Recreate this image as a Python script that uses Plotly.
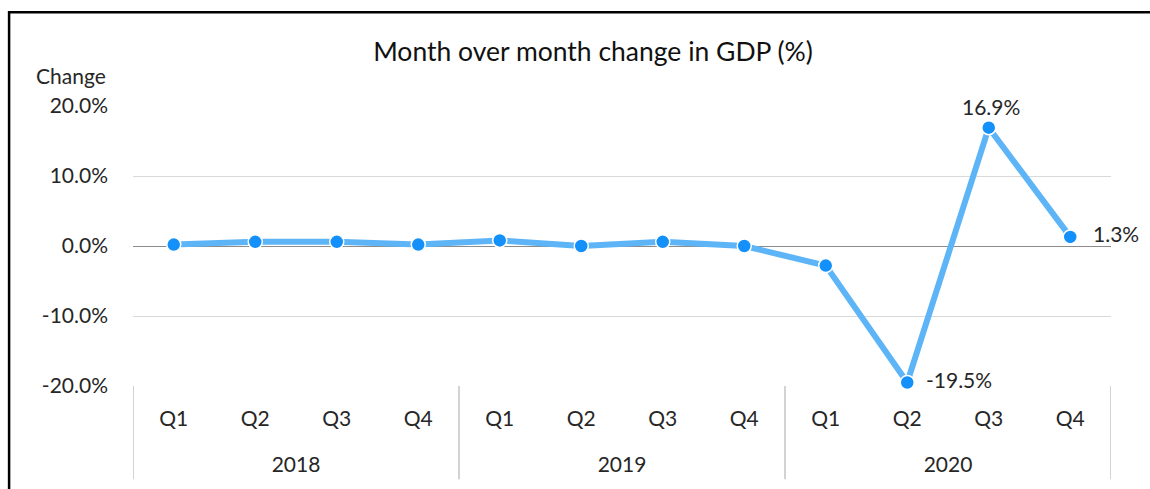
import plotly.graph_objects as go

# quarterly change in GDP (%)
years = ["2018"] * 4 + ["2019"] * 4 + ["2020"] * 4
quarters = ["Q1", "Q2", "Q3", "Q4"] * 3
change = [0.2, 0.6, 0.6, 0.2, 0.8, 0.0, 0.6, 0.0, -2.8, -19.5, 16.9, 1.3]

# data labels on the last three points: (index, text)
label_idx = [9, 10, 11]
label_txt = ["-19.5%", "16.9%", "1.3%"]

y_ticks = [-20, -10, 0, 10, 20]
y_ticktext = ["-20.0%", "-10.0%", "0.0%", "10.0%", "20.0%"]

font = "Lato"
txt = "#262626"

x = list(range(len(change)))
year_names = sorted(set(years))
year_centers = [sum(i for i, y in enumerate(years) if y == yr) / years.count(yr) for yr in year_names]
# group edges for the excel-style category dividers
edges = [-0.5] + [i + 0.5 for i in range(len(years) - 1) if years[i] != years[i + 1]] + [len(years) - 0.5]

fig = go.Figure()

fig.add_trace(go.Scatter(
    x=x,
    y=change,
    mode="lines+markers",
    line=dict(color="#5db5f8", width=6),
    marker=dict(size=14, color="#1490fa", line=dict(color="white", width=1.5)),
    cliponaxis=False,
    showlegend=False,
))

# invisible trace so the year axis is drawn
fig.add_trace(go.Scatter(x=[x[0]], y=[None], xaxis="x2", showlegend=False, hoverinfo="skip"))

# label placement relative to the marker
label_style = {
    9: dict(xanchor="left", yanchor="middle", xshift=17, yshift=3),
    10: dict(xanchor="center", yanchor="middle", xshift=2, yshift=21),
    11: dict(xanchor="left", yanchor="middle", xshift=21, yshift=3),
}
annotations = [
    dict(x=x[i], y=change[i], xref="x", yref="y", text=t, showarrow=False,
         font=dict(family=font, size=21, color=txt), **label_style[i])
    for i, t in zip(label_idx, label_txt)
]
annotations.append(
    dict(text="Change", xref="paper", yref="paper", x=-0.0633, y=1.11,
         xanchor="center", yanchor="middle", showarrow=False,
         font=dict(family=font, size=21, color=txt))
)

fig.update_layout(
    width=1150,
    height=489,
    margin=dict(l=133, r=39, t=106, b=102.5, autoexpand=False),
    paper_bgcolor="white",
    plot_bgcolor="white",
    font=dict(family=font, size=21, color=txt),
    title=dict(
        text="Month over month change in GDP (%)",
        x=0.5157, xanchor="center",
        y=0.894, yanchor="middle",
        font=dict(family=font, size=26.5, color="#111111"),
    ),
    xaxis=dict(
        range=[-0.5, 11.5],
        tickvals=x,
        ticktext=quarters,
        showgrid=False,
        showline=False,
        zeroline=False,
        ticks="",
        ticklabelstandoff=18,
        tickfont=dict(family=font, size=21, color=txt),
    ),
    xaxis2=dict(
        overlaying="x",
        matches="x",
        anchor="y",
        side="bottom",
        range=[-0.5, 11.5],
        tickvals=year_centers,
        ticktext=year_names,
        showgrid=False,
        showline=False,
        zeroline=False,
        ticks="",
        ticklabelstandoff=64,
        tickfont=dict(family=font, size=21, color=txt),
    ),
    yaxis=dict(
        range=[-20, 20],
        tickvals=y_ticks,
        ticktext=y_ticktext,
        showgrid=True,
        gridcolor="#d9d9d9",
        gridwidth=1,
        zeroline=True,
        zerolinecolor="#8c8c8c",
        zerolinewidth=1,
        showline=False,
        ticks="",
        ticklabelstandoff=24,
        tickfont=dict(family=font, size=21, color=txt),
    ),
    annotations=annotations,
    shapes=[
        dict(type="rect", xref="paper", yref="paper",
             x0=-0.1267, x1=1.2, y0=-0.5, y1=1.335,
             line=dict(color="black", width=2.5), layer="below"),
    ] + [
        dict(type="line", xref="x", yref="paper", x0=e, x1=e, y0=0, y1=-0.333,
             line=dict(color="#a6a6a6", width=1))
        for e in edges
    ],
)

fig.write_html("out.html", config={"displayModeBar": False},
               post_script="document.body.style.margin='0';")
